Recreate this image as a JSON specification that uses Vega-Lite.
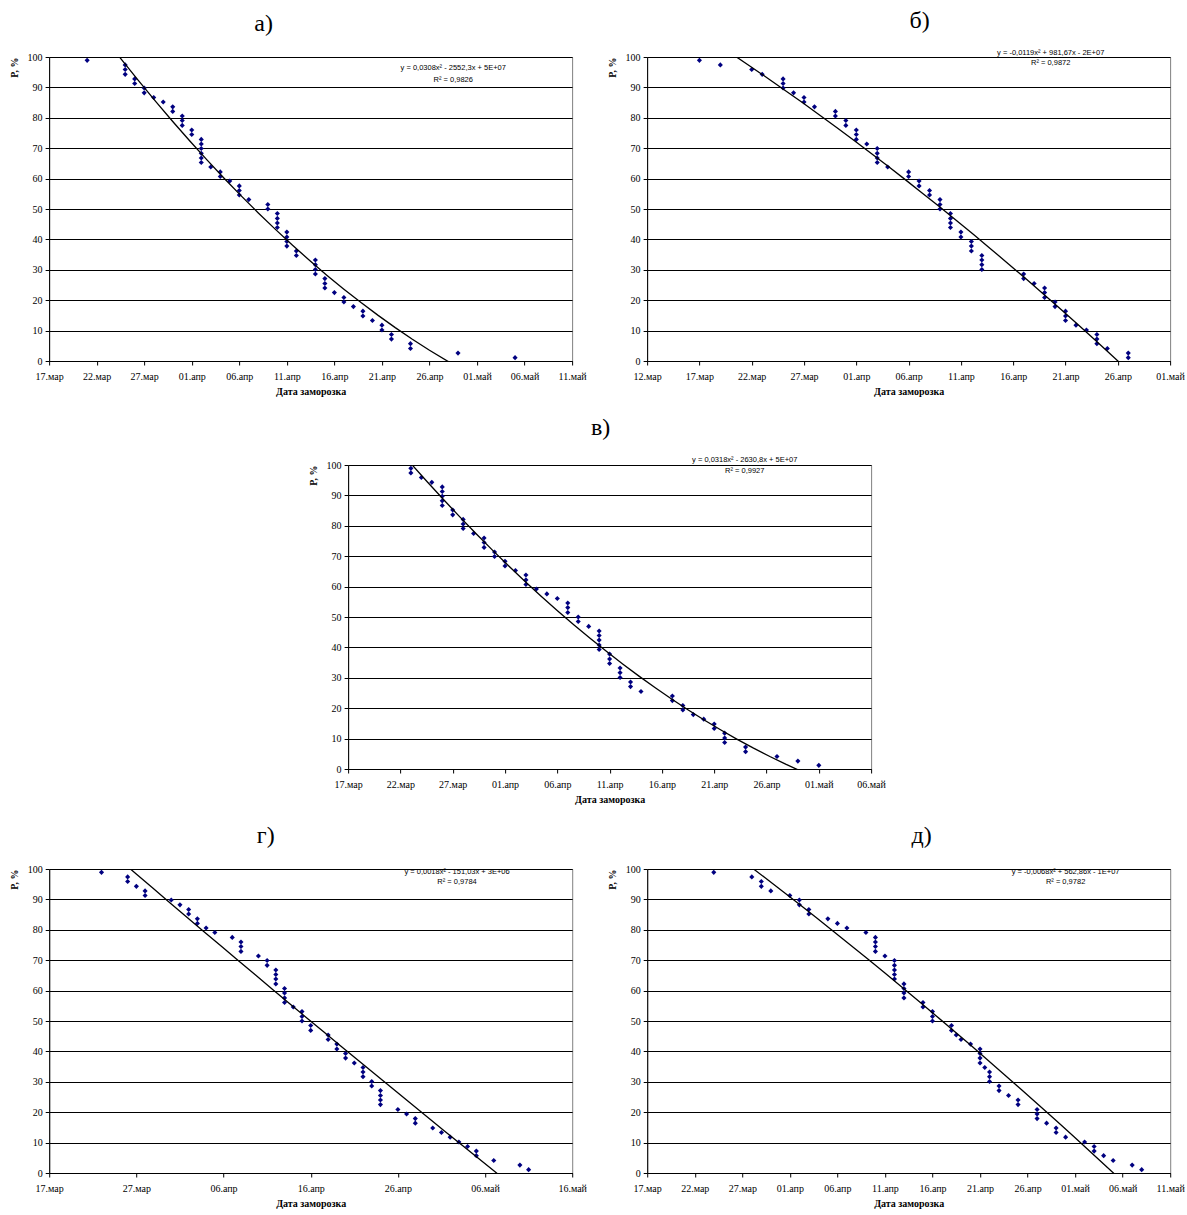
{
  "$schema": "https://vega.github.io/schema/vega-lite/v6.json",
  "background": "white",
  "padding": {"left": 8, "top": 8, "right": 5, "bottom": 3},
  "spacing": 18,
  "center": true,
  "vconcat": [
    {
      "spacing": 19,
      "hconcat": [
        {
          "title": {"text": "а)", "dx": -47},
          "width": 523, "height": 304,
          "data": {"format": {"parse": {"date": "date"}}, "values": [
            {"date": "2000-03-21", "p": 98.9},
            {"date": "2000-03-25", "p": 97.4}, {"date": "2000-03-25", "p": 95.9}, {"date": "2000-03-25", "p": 94.3},
            {"date": "2000-03-26", "p": 92.8}, {"date": "2000-03-26", "p": 91.3},
            {"date": "2000-03-27", "p": 89.8}, {"date": "2000-03-27", "p": 88.2},
            {"date": "2000-03-28", "p": 86.7},
            {"date": "2000-03-29", "p": 85.2},
            {"date": "2000-03-30", "p": 83.6}, {"date": "2000-03-30", "p": 82.1},
            {"date": "2000-03-31", "p": 80.6}, {"date": "2000-03-31", "p": 79.1}, {"date": "2000-03-31", "p": 77.5},
            {"date": "2000-04-01", "p": 76.0}, {"date": "2000-04-01", "p": 74.5},
            {"date": "2000-04-02", "p": 72.9}, {"date": "2000-04-02", "p": 71.4}, {"date": "2000-04-02", "p": 69.9}, {"date": "2000-04-02", "p": 68.3}, {"date": "2000-04-02", "p": 66.8}, {"date": "2000-04-02", "p": 65.3},
            {"date": "2000-04-03", "p": 63.8},
            {"date": "2000-04-04", "p": 62.2}, {"date": "2000-04-04", "p": 60.7},
            {"date": "2000-04-05", "p": 59.2},
            {"date": "2000-04-06", "p": 57.6}, {"date": "2000-04-06", "p": 56.1}, {"date": "2000-04-06", "p": 54.6},
            {"date": "2000-04-07", "p": 53.1},
            {"date": "2000-04-09", "p": 51.5}, {"date": "2000-04-09", "p": 50.0},
            {"date": "2000-04-10", "p": 48.5}, {"date": "2000-04-10", "p": 46.9}, {"date": "2000-04-10", "p": 45.4}, {"date": "2000-04-10", "p": 43.9},
            {"date": "2000-04-11", "p": 42.4}, {"date": "2000-04-11", "p": 40.8}, {"date": "2000-04-11", "p": 39.3}, {"date": "2000-04-11", "p": 37.8},
            {"date": "2000-04-12", "p": 36.2}, {"date": "2000-04-12", "p": 34.7},
            {"date": "2000-04-14", "p": 33.2}, {"date": "2000-04-14", "p": 31.7}, {"date": "2000-04-14", "p": 30.1}, {"date": "2000-04-14", "p": 28.6},
            {"date": "2000-04-15", "p": 27.1}, {"date": "2000-04-15", "p": 25.5}, {"date": "2000-04-15", "p": 24.0},
            {"date": "2000-04-16", "p": 22.5},
            {"date": "2000-04-17", "p": 20.9}, {"date": "2000-04-17", "p": 19.4},
            {"date": "2000-04-18", "p": 17.9},
            {"date": "2000-04-19", "p": 16.4}, {"date": "2000-04-19", "p": 14.8},
            {"date": "2000-04-20", "p": 13.3},
            {"date": "2000-04-21", "p": 11.8}, {"date": "2000-04-21", "p": 10.2},
            {"date": "2000-04-22", "p": 8.7}, {"date": "2000-04-22", "p": 7.2},
            {"date": "2000-04-24", "p": 5.7}, {"date": "2000-04-24", "p": 4.1},
            {"date": "2000-04-29", "p": 2.6},
            {"date": "2000-05-05", "p": 1.1}
          ]},
          "layer": [
            {
              "mark": {"type": "point", "shape": "diamond", "filled": true, "color": "#000080", "size": 26, "opacity": 1},
              "encoding": {
                "x": {"field": "date", "type": "temporal",
                  "scale": {"type": "utc", "domain": [{"year": 2000, "month": 3, "date": 17, "utc": true}, {"year": 2000, "month": 5, "date": 11, "utc": true}]},
                  "axis": {"title": "Дата заморозка", "tickCount": 20, "labelExpr": "utcFormat(datum.value, '%d') + '.' + ['янв','фев','мар','апр','май','июн'][utcmonth(datum.value)]",
                    "values": [
                      {"year": 2000, "month": 3, "date": 17, "utc": true}, {"year": 2000, "month": 3, "date": 22, "utc": true}, {"year": 2000, "month": 3, "date": 27, "utc": true},
                      {"year": 2000, "month": 4, "date": 1, "utc": true}, {"year": 2000, "month": 4, "date": 6, "utc": true}, {"year": 2000, "month": 4, "date": 11, "utc": true},
                      {"year": 2000, "month": 4, "date": 16, "utc": true}, {"year": 2000, "month": 4, "date": 21, "utc": true}, {"year": 2000, "month": 4, "date": 26, "utc": true},
                      {"year": 2000, "month": 5, "date": 1, "utc": true}, {"year": 2000, "month": 5, "date": 6, "utc": true}, {"year": 2000, "month": 5, "date": 11, "utc": true}
                    ]}},
                "y": {"field": "p", "type": "quantitative", "scale": {"domain": [0, 100], "nice": false},
                  "axis": {"title": "P, %", "tickCount": 20, "values": [0, 10, 20, 30, 40, 50, 60, 70, 80, 90, 100]}}
              }
            },
            {
              "transform": [{"regression": "p", "on": "date", "method": "poly", "order": 2}],
              "mark": {"type": "line", "color": "#000000", "strokeWidth": 1.3, "clip": true},
              "encoding": {"x": {"field": "date", "type": "temporal"}, "y": {"field": "p", "type": "quantitative"}}
            },
            {
              "data": {"values": [{}]},
              "mark": {"type": "text", "font": "Liberation Sans", "fontSize": 7.5, "align": "center", "baseline": "top", "lineHeight": 12, "color": "#000000"},
              "encoding": {
                "x": {"datum": {"year": 2000, "month": 4, "date": 28, "hours": 12, "utc": true}, "type": "temporal"},
                "y": {"datum": 97.7, "type": "quantitative"},
                "text": {"value": ["y = 0,0308x² - 2552,3x + 5E+07", "R² = 0,9826"]}
              }
            }
          ]
        },
        {
          "title": {"text": "б)", "dx": 11},
          "width": 523, "height": 304,
          "data": {"format": {"parse": {"date": "date"}}, "values": [
            {"date": "2000-03-17", "p": 98.9},
            {"date": "2000-03-19", "p": 97.4},
            {"date": "2000-03-22", "p": 95.9},
            {"date": "2000-03-23", "p": 94.3},
            {"date": "2000-03-25", "p": 92.8}, {"date": "2000-03-25", "p": 91.3}, {"date": "2000-03-25", "p": 89.8},
            {"date": "2000-03-26", "p": 88.2},
            {"date": "2000-03-27", "p": 86.7}, {"date": "2000-03-27", "p": 85.2},
            {"date": "2000-03-28", "p": 83.6},
            {"date": "2000-03-30", "p": 82.1}, {"date": "2000-03-30", "p": 80.6},
            {"date": "2000-03-31", "p": 79.1}, {"date": "2000-03-31", "p": 77.5},
            {"date": "2000-04-01", "p": 76.0}, {"date": "2000-04-01", "p": 74.5}, {"date": "2000-04-01", "p": 72.9},
            {"date": "2000-04-02", "p": 71.4},
            {"date": "2000-04-03", "p": 69.9}, {"date": "2000-04-03", "p": 68.3}, {"date": "2000-04-03", "p": 66.8}, {"date": "2000-04-03", "p": 65.3},
            {"date": "2000-04-04", "p": 63.8},
            {"date": "2000-04-06", "p": 62.2}, {"date": "2000-04-06", "p": 60.7},
            {"date": "2000-04-07", "p": 59.2}, {"date": "2000-04-07", "p": 57.6},
            {"date": "2000-04-08", "p": 56.1}, {"date": "2000-04-08", "p": 54.6},
            {"date": "2000-04-09", "p": 53.1}, {"date": "2000-04-09", "p": 51.5}, {"date": "2000-04-09", "p": 50.0},
            {"date": "2000-04-10", "p": 48.5}, {"date": "2000-04-10", "p": 46.9}, {"date": "2000-04-10", "p": 45.4}, {"date": "2000-04-10", "p": 43.9},
            {"date": "2000-04-11", "p": 42.4}, {"date": "2000-04-11", "p": 40.8},
            {"date": "2000-04-12", "p": 39.3}, {"date": "2000-04-12", "p": 37.8}, {"date": "2000-04-12", "p": 36.2},
            {"date": "2000-04-13", "p": 34.7}, {"date": "2000-04-13", "p": 33.2}, {"date": "2000-04-13", "p": 31.7}, {"date": "2000-04-13", "p": 30.1},
            {"date": "2000-04-17", "p": 28.6}, {"date": "2000-04-17", "p": 27.1},
            {"date": "2000-04-18", "p": 25.5},
            {"date": "2000-04-19", "p": 24.0}, {"date": "2000-04-19", "p": 22.5}, {"date": "2000-04-19", "p": 20.9},
            {"date": "2000-04-20", "p": 19.4}, {"date": "2000-04-20", "p": 17.9},
            {"date": "2000-04-21", "p": 16.4}, {"date": "2000-04-21", "p": 14.8}, {"date": "2000-04-21", "p": 13.3},
            {"date": "2000-04-22", "p": 11.8},
            {"date": "2000-04-23", "p": 10.2},
            {"date": "2000-04-24", "p": 8.7}, {"date": "2000-04-24", "p": 7.2}, {"date": "2000-04-24", "p": 5.7},
            {"date": "2000-04-25", "p": 4.1},
            {"date": "2000-04-27", "p": 2.6}, {"date": "2000-04-27", "p": 1.1}
          ]},
          "layer": [
            {
              "mark": {"type": "point", "shape": "diamond", "filled": true, "color": "#000080", "size": 26, "opacity": 1},
              "encoding": {
                "x": {"field": "date", "type": "temporal",
                  "scale": {"type": "utc", "domain": [{"year": 2000, "month": 3, "date": 12, "utc": true}, {"year": 2000, "month": 5, "date": 1, "utc": true}]},
                  "axis": {"title": "Дата заморозка", "tickCount": 20, "labelExpr": "utcFormat(datum.value, '%d') + '.' + ['янв','фев','мар','апр','май','июн'][utcmonth(datum.value)]",
                    "values": [
                      {"year": 2000, "month": 3, "date": 12, "utc": true}, {"year": 2000, "month": 3, "date": 17, "utc": true}, {"year": 2000, "month": 3, "date": 22, "utc": true},
                      {"year": 2000, "month": 3, "date": 27, "utc": true}, {"year": 2000, "month": 4, "date": 1, "utc": true}, {"year": 2000, "month": 4, "date": 6, "utc": true},
                      {"year": 2000, "month": 4, "date": 11, "utc": true}, {"year": 2000, "month": 4, "date": 16, "utc": true}, {"year": 2000, "month": 4, "date": 21, "utc": true},
                      {"year": 2000, "month": 4, "date": 26, "utc": true}, {"year": 2000, "month": 5, "date": 1, "utc": true}
                    ]}},
                "y": {"field": "p", "type": "quantitative", "scale": {"domain": [0, 100], "nice": false},
                  "axis": {"title": "P, %", "tickCount": 20, "values": [0, 10, 20, 30, 40, 50, 60, 70, 80, 90, 100]}}
              }
            },
            {
              "transform": [{"regression": "p", "on": "date", "method": "poly", "order": 2}],
              "mark": {"type": "line", "color": "#000000", "strokeWidth": 1.3, "clip": true},
              "encoding": {"x": {"field": "date", "type": "temporal"}, "y": {"field": "p", "type": "quantitative"}}
            },
            {
              "data": {"values": [{}]},
              "mark": {"type": "text", "font": "Liberation Sans", "fontSize": 7.5, "align": "center", "baseline": "top", "lineHeight": 10, "color": "#000000"},
              "encoding": {
                "x": {"datum": {"year": 2000, "month": 4, "date": 19, "hours": 14, "utc": true}, "type": "temporal"},
                "y": {"datum": 102.7, "type": "quantitative"},
                "text": {"value": ["y = -0,0119x² + 981,67x - 2E+07", "R² = 0,9872"]}
              }
            }
          ]
        }
      ]
    },
    {
      "title": {"text": "в)", "dx": -9},
      "width": 523, "height": 304,
      "data": {"format": {"parse": {"date": "date"}}, "values": [
        {"date": "2000-03-23", "p": 98.9}, {"date": "2000-03-23", "p": 97.4},
        {"date": "2000-03-24", "p": 95.9},
        {"date": "2000-03-25", "p": 94.3},
        {"date": "2000-03-26", "p": 92.8}, {"date": "2000-03-26", "p": 91.3}, {"date": "2000-03-26", "p": 89.7}, {"date": "2000-03-26", "p": 88.2}, {"date": "2000-03-26", "p": 86.7},
        {"date": "2000-03-27", "p": 85.2}, {"date": "2000-03-27", "p": 83.6},
        {"date": "2000-03-28", "p": 82.1}, {"date": "2000-03-28", "p": 80.6}, {"date": "2000-03-28", "p": 79.1},
        {"date": "2000-03-29", "p": 77.5},
        {"date": "2000-03-30", "p": 76.0}, {"date": "2000-03-30", "p": 74.5}, {"date": "2000-03-30", "p": 72.9},
        {"date": "2000-03-31", "p": 71.4}, {"date": "2000-03-31", "p": 69.9},
        {"date": "2000-04-01", "p": 68.3}, {"date": "2000-04-01", "p": 66.8},
        {"date": "2000-04-02", "p": 65.3},
        {"date": "2000-04-03", "p": 63.8}, {"date": "2000-04-03", "p": 62.2}, {"date": "2000-04-03", "p": 60.7},
        {"date": "2000-04-04", "p": 59.2},
        {"date": "2000-04-05", "p": 57.6},
        {"date": "2000-04-06", "p": 56.1},
        {"date": "2000-04-07", "p": 54.6}, {"date": "2000-04-07", "p": 53.1}, {"date": "2000-04-07", "p": 51.5},
        {"date": "2000-04-08", "p": 50.0}, {"date": "2000-04-08", "p": 48.5},
        {"date": "2000-04-09", "p": 46.9},
        {"date": "2000-04-10", "p": 45.4}, {"date": "2000-04-10", "p": 43.9}, {"date": "2000-04-10", "p": 42.4}, {"date": "2000-04-10", "p": 40.8}, {"date": "2000-04-10", "p": 39.3},
        {"date": "2000-04-11", "p": 37.8}, {"date": "2000-04-11", "p": 36.2}, {"date": "2000-04-11", "p": 34.7},
        {"date": "2000-04-12", "p": 33.2}, {"date": "2000-04-12", "p": 31.7}, {"date": "2000-04-12", "p": 30.1},
        {"date": "2000-04-13", "p": 28.6}, {"date": "2000-04-13", "p": 27.1},
        {"date": "2000-04-14", "p": 25.5},
        {"date": "2000-04-17", "p": 24.0}, {"date": "2000-04-17", "p": 22.5},
        {"date": "2000-04-18", "p": 20.9}, {"date": "2000-04-18", "p": 19.4},
        {"date": "2000-04-19", "p": 17.9},
        {"date": "2000-04-20", "p": 16.4},
        {"date": "2000-04-21", "p": 14.8}, {"date": "2000-04-21", "p": 13.3},
        {"date": "2000-04-22", "p": 11.8}, {"date": "2000-04-22", "p": 10.2}, {"date": "2000-04-22", "p": 8.7},
        {"date": "2000-04-24", "p": 7.2}, {"date": "2000-04-24", "p": 5.7},
        {"date": "2000-04-27", "p": 4.1},
        {"date": "2000-04-29", "p": 2.6},
        {"date": "2000-05-01", "p": 1.2}
      ]},
      "layer": [
        {
          "mark": {"type": "point", "shape": "diamond", "filled": true, "color": "#000080", "size": 26, "opacity": 1},
          "encoding": {
            "x": {"field": "date", "type": "temporal",
              "scale": {"type": "utc", "domain": [{"year": 2000, "month": 3, "date": 17, "utc": true}, {"year": 2000, "month": 5, "date": 6, "utc": true}]},
              "axis": {"title": "Дата заморозка", "tickCount": 20, "labelExpr": "utcFormat(datum.value, '%d') + '.' + ['янв','фев','мар','апр','май','июн'][utcmonth(datum.value)]",
                "values": [
                  {"year": 2000, "month": 3, "date": 17, "utc": true}, {"year": 2000, "month": 3, "date": 22, "utc": true}, {"year": 2000, "month": 3, "date": 27, "utc": true},
                  {"year": 2000, "month": 4, "date": 1, "utc": true}, {"year": 2000, "month": 4, "date": 6, "utc": true}, {"year": 2000, "month": 4, "date": 11, "utc": true},
                  {"year": 2000, "month": 4, "date": 16, "utc": true}, {"year": 2000, "month": 4, "date": 21, "utc": true}, {"year": 2000, "month": 4, "date": 26, "utc": true},
                  {"year": 2000, "month": 5, "date": 1, "utc": true}, {"year": 2000, "month": 5, "date": 6, "utc": true}
                ]}},
            "y": {"field": "p", "type": "quantitative", "scale": {"domain": [0, 100], "nice": false},
              "axis": {"title": "P, %", "tickCount": 20, "values": [0, 10, 20, 30, 40, 50, 60, 70, 80, 90, 100]}}
          }
        },
        {
          "transform": [{"regression": "p", "on": "date", "method": "poly", "order": 2}],
          "mark": {"type": "line", "color": "#000000", "strokeWidth": 1.3, "clip": true},
          "encoding": {"x": {"field": "date", "type": "temporal"}, "y": {"field": "p", "type": "quantitative"}}
        },
        {
          "data": {"values": [{}]},
          "mark": {"type": "text", "font": "Liberation Sans", "fontSize": 7.5, "align": "center", "baseline": "top", "lineHeight": 10.5, "color": "#000000"},
          "encoding": {
            "x": {"datum": {"year": 2000, "month": 4, "date": 23, "hours": 22, "utc": true}, "type": "temporal"},
            "y": {"datum": 102.8, "type": "quantitative"},
            "text": {"value": ["y = 0,0318x² - 2630,8x + 5E+07", "R² = 0,9927"]}
          }
        }
      ]
    },
    {
      "spacing": 19,
      "hconcat": [
        {
          "title": {"text": "г)", "dx": -45},
          "width": 523, "height": 304,
          "data": {"format": {"parse": {"date": "date"}}, "values": [
            {"date": "2000-03-23", "p": 98.9},
            {"date": "2000-03-26", "p": 97.4}, {"date": "2000-03-26", "p": 95.9},
            {"date": "2000-03-27", "p": 94.3},
            {"date": "2000-03-28", "p": 92.8}, {"date": "2000-03-28", "p": 91.3},
            {"date": "2000-03-31", "p": 89.8},
            {"date": "2000-04-01", "p": 88.2},
            {"date": "2000-04-02", "p": 86.7}, {"date": "2000-04-02", "p": 85.2},
            {"date": "2000-04-03", "p": 83.6}, {"date": "2000-04-03", "p": 82.1},
            {"date": "2000-04-04", "p": 80.6},
            {"date": "2000-04-05", "p": 79.1},
            {"date": "2000-04-07", "p": 77.5},
            {"date": "2000-04-08", "p": 76.0}, {"date": "2000-04-08", "p": 74.5}, {"date": "2000-04-08", "p": 72.9},
            {"date": "2000-04-10", "p": 71.4},
            {"date": "2000-04-11", "p": 69.9}, {"date": "2000-04-11", "p": 68.3},
            {"date": "2000-04-12", "p": 66.8}, {"date": "2000-04-12", "p": 65.3}, {"date": "2000-04-12", "p": 63.8}, {"date": "2000-04-12", "p": 62.2},
            {"date": "2000-04-13", "p": 60.7}, {"date": "2000-04-13", "p": 59.2}, {"date": "2000-04-13", "p": 57.6}, {"date": "2000-04-13", "p": 56.1},
            {"date": "2000-04-14", "p": 54.6},
            {"date": "2000-04-15", "p": 53.1}, {"date": "2000-04-15", "p": 51.5}, {"date": "2000-04-15", "p": 50.0},
            {"date": "2000-04-16", "p": 48.5}, {"date": "2000-04-16", "p": 46.9},
            {"date": "2000-04-18", "p": 45.4}, {"date": "2000-04-18", "p": 43.9},
            {"date": "2000-04-19", "p": 42.4}, {"date": "2000-04-19", "p": 40.8},
            {"date": "2000-04-20", "p": 39.3}, {"date": "2000-04-20", "p": 37.8},
            {"date": "2000-04-21", "p": 36.2},
            {"date": "2000-04-22", "p": 34.7}, {"date": "2000-04-22", "p": 33.2}, {"date": "2000-04-22", "p": 31.7},
            {"date": "2000-04-23", "p": 30.1}, {"date": "2000-04-23", "p": 28.6},
            {"date": "2000-04-24", "p": 27.1}, {"date": "2000-04-24", "p": 25.5}, {"date": "2000-04-24", "p": 24.0}, {"date": "2000-04-24", "p": 22.5},
            {"date": "2000-04-26", "p": 20.9},
            {"date": "2000-04-27", "p": 19.4},
            {"date": "2000-04-28", "p": 17.9}, {"date": "2000-04-28", "p": 16.4},
            {"date": "2000-04-30", "p": 14.8},
            {"date": "2000-05-01", "p": 13.3},
            {"date": "2000-05-02", "p": 11.8},
            {"date": "2000-05-03", "p": 10.2},
            {"date": "2000-05-04", "p": 8.7},
            {"date": "2000-05-05", "p": 7.2}, {"date": "2000-05-05", "p": 5.7},
            {"date": "2000-05-07", "p": 4.1},
            {"date": "2000-05-10", "p": 2.6},
            {"date": "2000-05-11", "p": 1.1}
          ]},
          "layer": [
            {
              "mark": {"type": "point", "shape": "diamond", "filled": true, "color": "#000080", "size": 26, "opacity": 1},
              "encoding": {
                "x": {"field": "date", "type": "temporal",
                  "scale": {"type": "utc", "domain": [{"year": 2000, "month": 3, "date": 17, "utc": true}, {"year": 2000, "month": 5, "date": 16, "utc": true}]},
                  "axis": {"title": "Дата заморозка", "tickCount": 20, "labelExpr": "utcFormat(datum.value, '%d') + '.' + ['янв','фев','мар','апр','май','июн'][utcmonth(datum.value)]",
                    "values": [
                      {"year": 2000, "month": 3, "date": 17, "utc": true}, {"year": 2000, "month": 3, "date": 27, "utc": true},
                      {"year": 2000, "month": 4, "date": 6, "utc": true}, {"year": 2000, "month": 4, "date": 16, "utc": true},
                      {"year": 2000, "month": 4, "date": 26, "utc": true}, {"year": 2000, "month": 5, "date": 6, "utc": true},
                      {"year": 2000, "month": 5, "date": 16, "utc": true}
                    ]}},
                "y": {"field": "p", "type": "quantitative", "scale": {"domain": [0, 100], "nice": false},
                  "axis": {"title": "P, %", "tickCount": 20, "values": [0, 10, 20, 30, 40, 50, 60, 70, 80, 90, 100]}}
              }
            },
            {
              "transform": [{"regression": "p", "on": "date", "method": "poly", "order": 2}],
              "mark": {"type": "line", "color": "#000000", "strokeWidth": 1.3, "clip": true},
              "encoding": {"x": {"field": "date", "type": "temporal"}, "y": {"field": "p", "type": "quantitative"}}
            },
            {
              "data": {"values": [{}]},
              "mark": {"type": "text", "font": "Liberation Sans", "fontSize": 7.5, "align": "center", "baseline": "top", "lineHeight": 10, "color": "#000000"},
              "encoding": {
                "x": {"datum": {"year": 2000, "month": 5, "date": 2, "hours": 19, "utc": true}, "type": "temporal"},
                "y": {"datum": 100.4, "type": "quantitative"},
                "text": {"value": ["y = 0,0018x² - 151,03x + 3E+06", "R² = 0,9784"]}
              }
            }
          ]
        },
        {
          "title": {"text": "д)", "dx": 13},
          "width": 523, "height": 304,
          "data": {"format": {"parse": {"date": "date"}}, "values": [
            {"date": "2000-03-24", "p": 98.9},
            {"date": "2000-03-28", "p": 97.4},
            {"date": "2000-03-29", "p": 95.9}, {"date": "2000-03-29", "p": 94.3},
            {"date": "2000-03-30", "p": 92.8},
            {"date": "2000-04-01", "p": 91.3},
            {"date": "2000-04-02", "p": 89.8}, {"date": "2000-04-02", "p": 88.2},
            {"date": "2000-04-03", "p": 86.7}, {"date": "2000-04-03", "p": 85.2},
            {"date": "2000-04-05", "p": 83.6},
            {"date": "2000-04-06", "p": 82.1},
            {"date": "2000-04-07", "p": 80.6},
            {"date": "2000-04-09", "p": 79.1},
            {"date": "2000-04-10", "p": 77.5}, {"date": "2000-04-10", "p": 76.0}, {"date": "2000-04-10", "p": 74.5}, {"date": "2000-04-10", "p": 72.9},
            {"date": "2000-04-11", "p": 71.4},
            {"date": "2000-04-12", "p": 69.9}, {"date": "2000-04-12", "p": 68.3}, {"date": "2000-04-12", "p": 66.8}, {"date": "2000-04-12", "p": 65.3}, {"date": "2000-04-12", "p": 63.8},
            {"date": "2000-04-13", "p": 62.2}, {"date": "2000-04-13", "p": 60.7}, {"date": "2000-04-13", "p": 59.2}, {"date": "2000-04-13", "p": 57.6},
            {"date": "2000-04-15", "p": 56.1}, {"date": "2000-04-15", "p": 54.6},
            {"date": "2000-04-16", "p": 53.1}, {"date": "2000-04-16", "p": 51.5}, {"date": "2000-04-16", "p": 50.0},
            {"date": "2000-04-18", "p": 48.5}, {"date": "2000-04-18", "p": 46.9},
            {"date": "2000-04-18T12:00:00Z", "p": 45.4},
            {"date": "2000-04-19", "p": 43.9},
            {"date": "2000-04-20", "p": 42.4},
            {"date": "2000-04-21", "p": 40.8}, {"date": "2000-04-21", "p": 39.3}, {"date": "2000-04-21", "p": 37.8}, {"date": "2000-04-21", "p": 36.2},
            {"date": "2000-04-21T12:00:00Z", "p": 34.7},
            {"date": "2000-04-22", "p": 33.2}, {"date": "2000-04-22", "p": 31.7}, {"date": "2000-04-22", "p": 30.1},
            {"date": "2000-04-23", "p": 28.6}, {"date": "2000-04-23", "p": 27.1},
            {"date": "2000-04-24", "p": 25.5},
            {"date": "2000-04-25", "p": 24.0}, {"date": "2000-04-25", "p": 22.5},
            {"date": "2000-04-27", "p": 20.9}, {"date": "2000-04-27", "p": 19.4}, {"date": "2000-04-27", "p": 17.9},
            {"date": "2000-04-28", "p": 16.4},
            {"date": "2000-04-29", "p": 14.8}, {"date": "2000-04-29", "p": 13.3},
            {"date": "2000-04-30", "p": 11.8},
            {"date": "2000-05-02", "p": 10.2},
            {"date": "2000-05-03", "p": 8.7}, {"date": "2000-05-03", "p": 7.2},
            {"date": "2000-05-04", "p": 5.7},
            {"date": "2000-05-05", "p": 4.1},
            {"date": "2000-05-07", "p": 2.6},
            {"date": "2000-05-08", "p": 1.1}
          ]},
          "layer": [
            {
              "mark": {"type": "point", "shape": "diamond", "filled": true, "color": "#000080", "size": 26, "opacity": 1},
              "encoding": {
                "x": {"field": "date", "type": "temporal",
                  "scale": {"type": "utc", "domain": [{"year": 2000, "month": 3, "date": 17, "utc": true}, {"year": 2000, "month": 5, "date": 11, "utc": true}]},
                  "axis": {"title": "Дата заморозка", "tickCount": 20, "labelExpr": "utcFormat(datum.value, '%d') + '.' + ['янв','фев','мар','апр','май','июн'][utcmonth(datum.value)]",
                    "values": [
                      {"year": 2000, "month": 3, "date": 17, "utc": true}, {"year": 2000, "month": 3, "date": 22, "utc": true}, {"year": 2000, "month": 3, "date": 27, "utc": true},
                      {"year": 2000, "month": 4, "date": 1, "utc": true}, {"year": 2000, "month": 4, "date": 6, "utc": true}, {"year": 2000, "month": 4, "date": 11, "utc": true},
                      {"year": 2000, "month": 4, "date": 16, "utc": true}, {"year": 2000, "month": 4, "date": 21, "utc": true}, {"year": 2000, "month": 4, "date": 26, "utc": true},
                      {"year": 2000, "month": 5, "date": 1, "utc": true}, {"year": 2000, "month": 5, "date": 6, "utc": true}, {"year": 2000, "month": 5, "date": 11, "utc": true}
                    ]}},
                "y": {"field": "p", "type": "quantitative", "scale": {"domain": [0, 100], "nice": false},
                  "axis": {"title": "P, %", "tickCount": 20, "values": [0, 10, 20, 30, 40, 50, 60, 70, 80, 90, 100]}}
              }
            },
            {
              "transform": [{"regression": "p", "on": "date", "method": "poly", "order": 2}],
              "mark": {"type": "line", "color": "#000000", "strokeWidth": 1.3, "clip": true},
              "encoding": {"x": {"field": "date", "type": "temporal"}, "y": {"field": "p", "type": "quantitative"}}
            },
            {
              "data": {"values": [{}]},
              "mark": {"type": "text", "font": "Liberation Sans", "fontSize": 7.5, "align": "center", "baseline": "top", "lineHeight": 10, "color": "#000000"},
              "encoding": {
                "x": {"datum": {"year": 2000, "month": 4, "date": 30, "utc": true}, "type": "temporal"},
                "y": {"datum": 100.2, "type": "quantitative"},
                "text": {"value": ["y = -0,0068x² + 562,86x - 1E+07", "R² = 0,9782"]}
              }
            }
          ]
        }
      ]
    }
  ],
  "config": {
    "view": {"stroke": "#808080", "strokeWidth": 1},
    "axis": {
      "labelFont": "Liberation Serif", "labelFontSize": 10, "labelColor": "#000000",
      "titleFont": "Liberation Serif", "titleFontSize": 10, "titleFontWeight": "bold", "titleColor": "#000000",
      "domainColor": "#000000", "domainWidth": 1, "tickColor": "#000000", "tickSize": 4, "tickWidth": 1,
      "gridColor": "#000000", "gridOpacity": 1, "gridWidth": 1, "labelOverlap": false, "labelFlush": false
    },
    "axisX": {"grid": false, "labelPadding": 6, "titlePadding": 5},
    "axisY": {"grid": true, "labelPadding": 3, "titlePadding": 8, "titleAnchor": "end"},
    "title": {"font": "Liberation Serif", "fontSize": 24, "fontWeight": "normal", "color": "#000000", "anchor": "middle", "frame": "group", "offset": 16, "baseline": "alphabetic"}
  }
}
